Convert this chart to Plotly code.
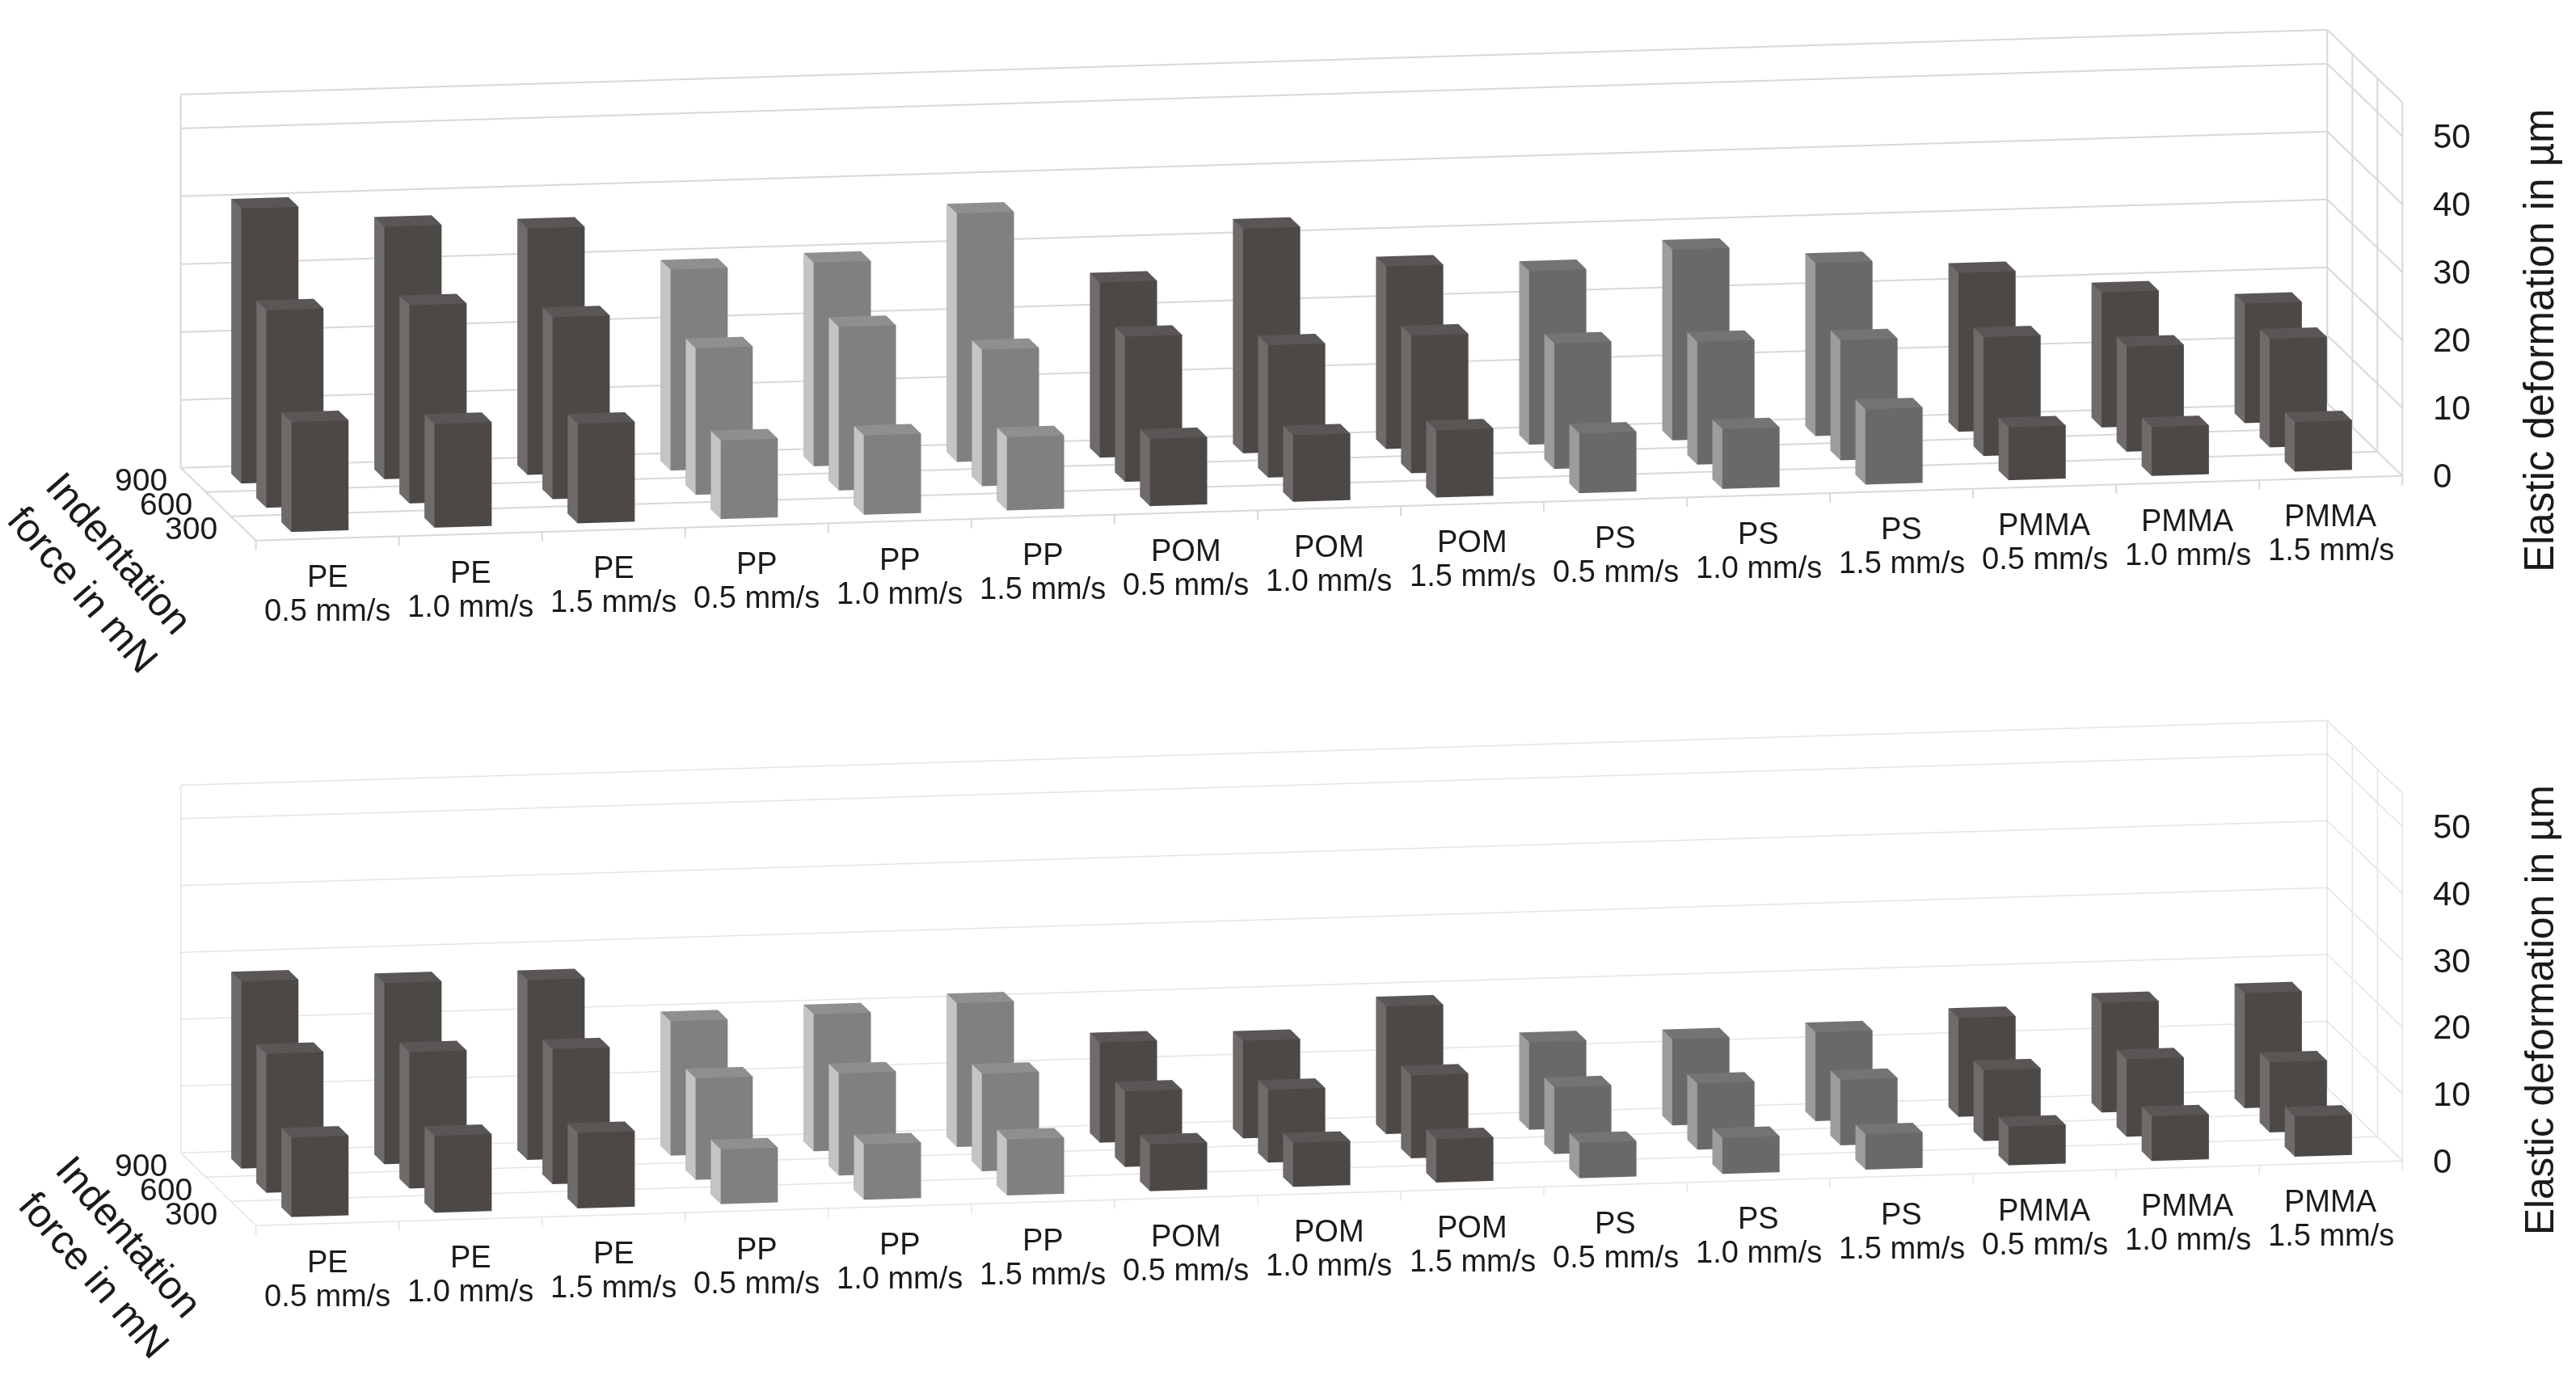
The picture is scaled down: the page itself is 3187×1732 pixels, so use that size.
import plotly.graph_objects as go

categories = ["PE", "PE", "PE", "PP", "PP", "PP", "POM", "POM", "POM",
              "PS", "PS", "PS", "PMMA", "PMMA", "PMMA"]
speeds = ["0.5 mm/s", "1.0 mm/s", "1.5 mm/s"] * 5
forces = ["300", "600", "900"]
z_ticks = [0, 10, 20, 30, 40, 50]
z_top = 55

# elastic deformation in um, one list per indentation force
top_300 = [16.2, 15.3, 14.7, 11.6, 11.7, 10.8, 9.9, 9.8, 9.9, 8.8, 8.8, 11.1, 7.8, 7.2, 7.3]
top_600 = [29.1, 29.2, 26.8, 21.6, 24.1, 20.1, 21.4, 19.5, 20.3, 18.5, 18.1, 17.7, 17.5, 15.5, 16.0]
top_900 = [40.5, 37.2, 36.3, 29.6, 30.0, 36.6, 25.8, 33.1, 26.9, 25.6, 28.1, 25.5, 23.4, 19.9, 17.6]

bottom_300 = [11.9, 11.5, 11.3, 8.2, 8.3, 8.4, 7.0, 6.6, 6.5, 5.3, 5.4, 5.3, 5.8, 6.7, 6.0]
bottom_600 = [20.8, 20.4, 20.2, 15.2, 15.3, 14.6, 11.3, 10.9, 12.4, 10.0, 9.9, 9.8, 10.6, 11.6, 10.5]
bottom_900 = [28.0, 27.1, 26.9, 20.1, 20.5, 21.5, 15.0, 14.6, 19.1, 13.1, 12.9, 13.3, 14.8, 16.4, 17.2]

# front, left side, top
material_colors = {
    "PE": ("#4c4846", "#6e6b6a", "#5a5655"),
    "PP": ("#808080", "#c4c4c4", "#8f8f8f"),
    "POM": ("#4c4846", "#6e6b6a", "#5a5655"),
    "PS": ("#696969", "#9c9c9c", "#747474"),
    "PMMA": ("#4c4846", "#6e6b6a", "#5a5655"),
}

FONT = "Liberation Sans"
TEXT = "#1a1a1a"
BAR_SIZE = 0.4
Z_MIN = -2
Z_MAX = 56  # a little above the top line so it is not clipped
ZOOM = 1.5375  # orthographic scenes scale with the aspect ratio, not the eye distance


def bars_mesh(rows):
    xs, ys, zs, i, j, k, colors = [], [], [], [], [], [], []
    for r, values in enumerate(rows):
        for c, v in enumerate(values):
            front, side, top = material_colors[categories[c]]
            x0, x1 = c + 0.5 - BAR_SIZE / 2, c + 0.5 + BAR_SIZE / 2
            y0, y1 = r + 0.5 - BAR_SIZE / 2, r + 0.5 + BAR_SIZE / 2
            n = len(xs)
            xs += [x0, x1, x1, x0, x0, x1, x1, x0]
            ys += [y0, y0, y1, y1, y0, y0, y1, y1]
            zs += [0, 0, 0, 0, v, v, v, v]
            faces = [
                (0, 1, 5, front), (0, 5, 4, front),
                (3, 0, 4, side), (3, 4, 7, side),
                (4, 5, 6, top), (4, 6, 7, top),
                (1, 2, 6, side), (1, 6, 5, side),
                (2, 3, 7, front), (2, 7, 6, front),
            ]
            for a, b, d, col in faces:
                i.append(n + a)
                j.append(n + b)
                k.append(n + d)
                colors.append(col)
    return go.Mesh3d(
        x=xs, y=ys, z=zs, i=i, j=j, k=k, facecolor=colors, flatshading=True,
        lighting=dict(ambient=1.0, diffuse=0, specular=0, fresnel=0),
        hoverinfo="skip", showscale=False,
    )


def frame_lines(color, width):
    n_cat = len(categories)
    n_row = len(forces)
    segs = []
    for z in z_ticks + [z_top]:
        segs.append(((0, n_row, z), (n_cat, n_row, z)))
        segs.append(((n_cat, n_row, z), (n_cat, 0, z)))
    for r in range(n_row + 1):
        segs.append(((0, r, 0), (n_cat, r, 0)))
        segs.append(((n_cat, r, 0), (n_cat, r, z_top)))
    segs.append(((0, 0, 0), (0, n_row, 0)))
    segs.append(((n_cat, 0, 0), (n_cat, n_row, 0)))
    segs.append(((0, n_row, 0), (0, n_row, z_top)))
    for c in range(n_cat + 1):
        segs.append(((c, 0, 0), (c, 0, -1.4)))
    xs, ys, zs = [], [], []
    for a, b in segs:
        xs += [a[0], b[0], None]
        ys += [a[1], b[1], None]
        zs += [a[2], b[2], None]
    return go.Scatter3d(x=xs, y=ys, z=zs, mode="lines", line=dict(color=color, width=width),
                        hoverinfo="skip", showlegend=False)


def scene_labels():
    notes = []
    for c, (cat, sp) in enumerate(zip(categories, speeds)):
        for text, shift in [(cat, -47), (sp, -89)]:
            notes.append(dict(x=c + 0.5, y=0, z=0, text=text, showarrow=False,
                              xanchor="center", yanchor="middle", yshift=shift,
                              font=dict(family=FONT, size=38, color=TEXT)))
    for r, f in enumerate(forces):
        notes.append(dict(x=0, y=r + 0.5, z=0, text=f, showarrow=False, xshift=-65,
                          xanchor="center", yanchor="middle",
                          font=dict(family=FONT, size=39, color=TEXT)))
    for z in z_ticks:
        notes.append(dict(x=len(categories), y=0, z=z, text=str(z), showarrow=False,
                          xanchor="left", yanchor="middle", xshift=36,
                          font=dict(family=FONT, size=42, color=TEXT)))
    return notes


def scene_layout(domain_y, z_aspect):
    hidden = dict(visible=False, showgrid=False, showbackground=False, zeroline=False)
    return dict(
        domain=dict(x=[0, 0.9978], y=domain_y),
        bgcolor="rgba(0,0,0,0)",
        aspectmode="manual",
        aspectratio=dict(x=5.04 * ZOOM, y=ZOOM, z=z_aspect * ZOOM),
        camera=dict(
            projection=dict(type="orthographic"),
            up=dict(x=0, y=0, z=1),
            center=dict(x=0, y=0, z=0),
            eye=dict(x=-0.1713 * 3, y=-0.9706 * 3, z=0.1708 * 3),
        ),
        xaxis=dict(range=[0, len(categories)], **hidden),
        yaxis=dict(range=[0, len(forces)], **hidden),
        zaxis=dict(range=[Z_MIN, Z_MAX], **hidden),
        annotations=scene_labels(),
    )


fig = go.Figure()
fig.add_trace(bars_mesh([top_300, top_600, top_900]).update(scene="scene"))
fig.add_trace(frame_lines("#d8d8d8", 4).update(scene="scene"))
fig.add_trace(bars_mesh([bottom_300, bottom_600, bottom_900]).update(scene="scene2"))
fig.add_trace(frame_lines("#e4e4e4", 3).update(scene="scene2"))

titles = [
    ("Elastic deformation in µm", 3133, 413, -90, 51),
    ("Elastic deformation in µm", 3133, 1242, -90, 49.5),
    ("Indentation", 139, 676, 49, 49.5),
    ("force in mN", 95, 720, 49, 49.5),
    ("Indentation", 152, 1521, 49, 49.5),
    ("force in mN", 109, 1568, 49, 49.5),
]
W, H = 3187, 1732
annotations = [
    dict(text=t, x=px / W, y=1 - py / H, xref="paper", yref="paper", showarrow=False,
         xanchor="center", yanchor="middle", textangle=ang,
         font=dict(family=FONT, size=size, color=TEXT))
    for t, px, py, ang, size in titles
]

fig.update_layout(
    width=W, height=H,
    paper_bgcolor="white",
    margin=dict(l=0, r=0, t=0, b=0),
    showlegend=False,
    annotations=annotations,
    scene=scene_layout([1 - 697 / H, 1 - 1 / H], 0.908 * 58 / 57),
    scene2=scene_layout([1 - 1548 / H, 1 - 852 / H], 0.894 * 58 / 57),
)

fig.write_html("out.html", config=dict(displayModeBar=False))
